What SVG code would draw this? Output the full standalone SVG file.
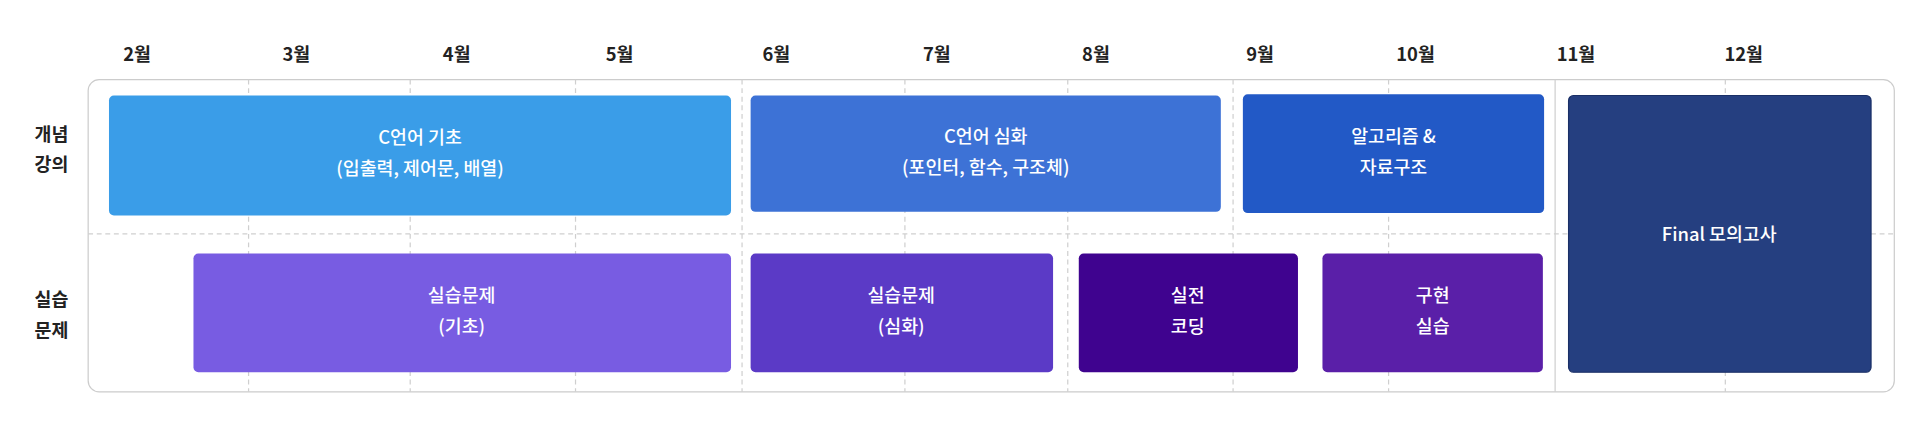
<svg xmlns="http://www.w3.org/2000/svg" width="1920" height="427" viewBox="0 0 1920 427">
<style>
.m{font-family:"Noto Sans CJK KR","Noto Sans",sans-serif;font-size:15px;font-weight:700;fill:#222;text-anchor:middle}
.r{font-family:"Noto Sans CJK KR","Noto Sans",sans-serif;font-size:15px;font-weight:700;fill:#222;text-anchor:middle}
.t{font-family:"Noto Sans CJK KR","Noto Sans",sans-serif;font-size:15px;font-weight:500;fill:#fff;text-anchor:middle}
.g{stroke:#cfcfcf;stroke-width:1;stroke-dasharray:4 3;fill:none}
</style>
<rect width="1920" height="427" fill="#fff"/>
<g transform="scale(1.2245)">
<g id="months">
<text class="m" x="112" y="50">2월</text><text class="m" x="242" y="50">3월</text><text class="m" x="373" y="50">4월</text><text class="m" x="506" y="50">5월</text><text class="m" x="634" y="50">6월</text><text class="m" x="765" y="50">7월</text><text class="m" x="895" y="50">8월</text><text class="m" x="1029" y="50">9월</text><text class="m" x="1156" y="50">10월</text><text class="m" x="1287" y="50">11월</text><text class="m" x="1424" y="50">12월</text>
</g>
<g id="grid">
<rect x="72" y="65" width="1475" height="255" rx="9" fill="none" stroke="#cccccc"/>
<path class="g" d="M72 191H1547M203 65V320M335 65V320M470 65V320M606 65V320M739 65V320M872 65V320M1007 65V320M1134 65V320M1409 65V320"/>
<path d="M1270 65V320" stroke="#cfcfcf"/>
</g>
<g id="rows">
<text class="r" x="42" y="115">개념</text><text class="r" x="42" y="140">강의</text>
<text class="r" x="42" y="250">실습</text><text class="r" x="42" y="275">문제</text>
</g>
<g id="n1"><rect x="89" y="78" width="508" height="98" rx="4" fill="#3a9de8"/><text class="t" x="343" y="118">C언어 기초</text><text class="t" x="343" y="143">(입출력, 제어문, 배열)</text></g>
<g id="n2"><rect x="613" y="78" width="384" height="95" rx="4" fill="#3d72d6"/><text class="t" x="805" y="117">C언어 심화</text><text class="t" x="805" y="142">(포인터, 함수, 구조체)</text></g>
<g id="n3"><rect x="1015" y="77" width="246" height="97" rx="4" fill="#2259c6"/><text class="t" x="1138" y="117">알고리즘 &amp;</text><text class="t" x="1138" y="142">자료구조</text></g>
<g id="n4"><rect x="1281" y="78" width="247" height="226" rx="4" fill="#253f80" stroke="#1a2f66"/><text class="t" x="1404" y="197">Final 모의고사</text></g>
<g id="n5"><rect x="158" y="207" width="439" height="97" rx="4" fill="#785ce2"/><text class="t" x="377" y="247">실습문제</text><text class="t" x="377" y="272">(기초)</text></g>
<g id="n6"><rect x="613" y="207" width="247" height="97" rx="4" fill="#5b3ac6"/><text class="t" x="736" y="247">실습문제</text><text class="t" x="736" y="272">(심화)</text></g>
<g id="n7"><rect x="881" y="207" width="179" height="97" rx="4" fill="#3f038f"/><text class="t" x="970" y="247">실전</text><text class="t" x="970" y="272">코딩</text></g>
<g id="n8"><rect x="1080" y="207" width="180" height="97" rx="4" fill="#5a1fa8"/><text class="t" x="1170" y="247">구현</text><text class="t" x="1170" y="272">실습</text></g>
<g id="connectors"/>
</g>
</svg>
